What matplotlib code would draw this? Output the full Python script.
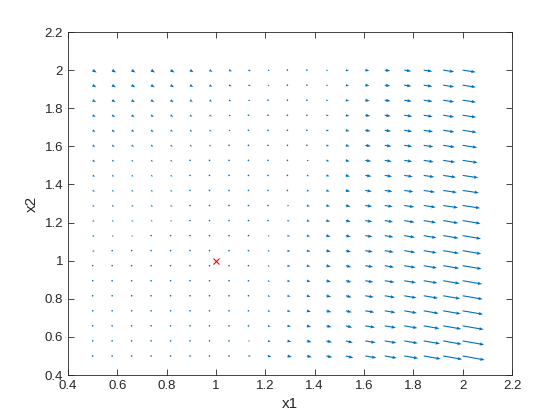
import numpy as np
import matplotlib
matplotlib.use('Agg')
import matplotlib.pyplot as plt

# grid of the vector field (same as MATLAB linspace(0.5,2,20))
x1 = np.linspace(0.5, 2.0, 20)
x2 = np.linspace(0.5, 2.0, 20)

# arrow components (screen pixels), rows from x2=2.0 down to x2=0.5
U = [
    [4, 4, 4, 4, 4, 3.5, 3, 3, 2.5, 2, 0.5, 0.5, 2, 3, 4, 5.5, 7, 8.5, 11, 13],
    [3.7, 3.7, 3.7, 3.6, 3.5, 3.2, 2.8, 2.7, 2.3, 1.7, 0.4, 0.5, 2, 3.2, 4.2, 5.6, 7.2, 8.7, 11, 13.2],
    [3.4, 3.4, 3.3, 3.2, 3.1, 2.8, 2.5, 2.4, 2, 1.3, 0.2, 0.5, 2.2, 3.3, 4.5, 5.8, 7.5, 8.8, 11, 13.3],
    [3, 3, 3, 2.8, 2.6, 2.4, 2.2, 2, 1.5, 1, 0, 0.5, 2.5, 3.5, 5, 6, 8, 9, 11, 13.5],
    [2.8, 2.8, 2.7, 2.6, 2.4, 2.2, 2, 1.7, 1.2, 0.8, 0.3, 1, 2.7, 3.7, 5.3, 6.3, 8, 9.3, 11.3, 14],
    [2.6, 2.5, 2.4, 2.3, 2.2, 2, 1.8, 1.3, 0.8, 0.6, 0.7, 1.5, 2.8, 3.8, 5.6, 6.7, 8, 9.7, 11.7, 14.5],
    [2.5, 2.2, 2, 2, 2, 1.5, 1.5, 1, 0.5, 0.4, 1, 2, 3, 4, 6, 7, 8, 10, 12, 15],
    [2.4, 2.1, 2, 2, 2, 1.4, 1.2, 0.8, 0.4, 0.6, 1.4, 2.3, 3.2, 4.2, 6.2, 7.3, 8.6, 10.6, 12.8, 15.6],
    [2.2, 2, 2, 2, 2, 1.2, 0.9, 0.6, 0.3, 0.8, 1.7, 2.6, 3.4, 4.4, 6.5, 7.6, 9.2, 11.2, 13.6, 16.3],
    [2, 2, 2, 2, 2, 1, 0.5, 0.5, 0.2, 1, 2, 3, 3.7, 4.7, 6.8, 8, 10, 12, 14.8, 17.5],
    [2, 1.8, 1.8, 1.7, 1.7, 0.8, 0.4, 0.4, 0.5, 1.3, 2.3, 3.1, 3.9, 4.9, 7, 8.3, 10.3, 12.3, 15.1, 17.9],
    [2, 1.7, 1.6, 1.4, 1.3, 0.7, 0.3, 0.3, 0.7, 1.7, 2.6, 3.3, 4.2, 5, 7.2, 8.7, 10.7, 12.7, 15.4, 18.3],
    [2, 1.5, 1.5, 1, 1, 0.5, 0.3, 0.3, 1, 2, 3, 3.5, 4.5, 5.2, 7.5, 9, 11, 13, 15.7, 18.6],
    [1.5, 1.5, 1.5, 1, 1, 0.5, 0.1, 0.5, 1, 2, 3, 3.5, 4.5, 5.5, 7.8, 9.3, 11.3, 13.3, 16, 19],
    [1.4, 1.4, 1.2, 1, 0.9, 0.5, 0.2, 0.5, 1.2, 2.2, 3, 3.7, 4.7, 5.7, 8, 9.7, 11.7, 13.7, 16.5, 19.5],
    [1.2, 1.2, 0.9, 1, 0.7, 0.5, 0.3, 0.5, 1.3, 2.3, 3, 3.8, 4.8, 5.8, 8.5, 10.2, 12.2, 14.3, 17, 20],
    [1, 1, 0.6, 1, 0.5, 0.4, 0.3, 0.5, 1.5, 2.5, 3.2, 4, 5, 6, 9, 10.7, 12.7, 15, 17.5, 20.5],
    [1, 1, 0.7, 0.7, 0.4, 0.3, 0.3, 0.7, 1.7, 2.7, 3.5, 4.3, 5.3, 6.5, 9.7, 11.2, 13.2, 15.7, 18, 21],
    [1, 1, 0.8, 0.5, 0.3, 0.2, 0.3, 0.8, 1.8, 2.8, 3.8, 4.7, 5.7, 7, 10.3, 11.6, 13.6, 16.3, 18.5, 21.5],
    [1, 1, 1, 0.5, 0.3, 0.2, 0.3, 1.5, 2.5, 3.5, 4.5, 5, 6, 7.5, 11, 12, 14, 17, 19, 22],
]
V = [
    [-2.4, -2.4, -2.4, -2.4, -2.4, -2.1, -1.8, -1.2, -1.0, -0.8, -1.0, -1.0, -0.5, -0.8, -0.6, -0.8, -1.1, -1.3, -1.7, -2.0],
    [-2.2, -2.2, -2.2, -2.2, -2.1, -1.9, -1.7, -1.1, -0.9, -0.7, -0.9, -0.9, -0.5, -0.8, -0.6, -0.8, -1.1, -1.3, -1.7, -2.0],
    [-2.0, -2.0, -2.0, -1.9, -1.9, -1.7, -1.5, -1.0, -0.8, -0.5, -0.7, -0.7, -0.6, -0.8, -0.7, -0.9, -1.1, -1.3, -1.7, -2.0],
    [-1.8, -1.8, -1.8, -1.7, -1.6, -1.4, -1.3, -0.8, -0.6, -0.4, -0.3, -0.4, -0.6, -0.9, -0.8, -0.9, -1.2, -1.4, -1.7, -2.0],
    [-1.7, -1.7, -1.6, -1.6, -1.4, -1.3, -1.2, -0.7, -0.5, -0.3, -0.2, -0.3, -0.7, -0.9, -0.8, -0.9, -1.2, -1.4, -1.7, -2.1],
    [-1.6, -1.5, -1.4, -1.4, -1.3, -1.2, -1.1, -0.5, -0.3, -0.2, -0.2, -0.4, -0.7, -1.0, -0.8, -1.0, -1.2, -1.5, -1.8, -2.2],
    [-1.5, -1.3, -1.2, -1.2, -1.2, -0.9, -0.9, -0.8, -0.4, -0.2, -0.3, -0.5, -0.8, -1.0, -0.9, -1.1, -1.2, -1.5, -1.8, -2.3],
    [-1.3, -1.2, -1.1, -1.1, -1.1, -0.8, -0.7, -0.7, -0.4, -0.2, -0.4, -0.6, -0.8, -1.1, -0.9, -1.1, -1.3, -1.6, -1.9, -2.3],
    [-1.2, -1.1, -1.1, -1.1, -1.1, -0.7, -0.6, -0.6, -0.3, -0.3, -0.4, -0.7, -0.9, -1.1, -1.0, -1.1, -1.4, -1.7, -2.0, -2.4],
    [-1.1, -1.1, -1.1, -1.1, -1.1, -0.9, -0.8, -0.5, -0.2, -0.4, -0.5, -0.8, -0.9, -1.2, -1.0, -1.2, -1.5, -1.8, -2.2, -2.6],
    [-1.1, -1.0, -1.0, -0.9, -0.9, -0.7, -0.6, -0.4, -0.2, -0.5, -0.6, -0.8, -1.0, -1.2, -1.2, -1.4, -1.8, -2.1, -2.6, -3.0],
    [-1.1, -0.9, -0.9, -0.8, -0.7, -0.5, -0.4, -0.3, -0.3, -0.7, -0.7, -0.8, -1.1, -1.3, -1.2, -1.5, -1.8, -2.2, -2.6, -3.1],
    [-1.1, -0.8, -0.8, -0.6, -0.5, -0.3, -0.1, -0.2, -0.4, -0.8, -0.8, -0.9, -1.1, -1.3, -1.3, -1.5, -1.9, -2.2, -2.7, -3.2],
    [-0.6, -0.6, -0.6, -0.4, -0.4, -0.2, 0.0, -0.2, -0.4, -0.8, -0.8, -0.9, -1.1, -1.4, -1.3, -1.6, -1.9, -2.3, -2.7, -3.2],
    [-0.6, -0.6, -0.5, -0.4, -0.3, -0.1, 0.2, -0.1, -0.5, -0.9, -0.8, -0.9, -1.2, -1.4, -1.4, -1.6, -2.0, -2.3, -2.8, -3.3],
    [-0.4, -0.4, -0.3, -0.3, -0.1, 0.3, 0.5, 0.2, -0.3, -0.8, -0.8, -1.0, -1.2, -1.5, -1.4, -1.7, -2.1, -2.4, -2.9, -3.4],
    [-0.2, -0.2, 0.0, -0.2, 0.2, 0.6, 0.9, 0.4, -0.3, -0.8, -0.8, -1.0, -1.3, -1.5, -1.5, -1.8, -2.2, -2.6, -3.0, -3.5],
    [0.0, 0.0, 0.2, 0.2, 0.4, 0.9, 1.2, 0.6, -0.3, -0.8, -0.9, -1.1, -1.3, -1.6, -1.6, -1.9, -2.2, -2.7, -3.1, -3.6],
    [0.4, 0.2, 0.3, 0.3, 0.5, 1.1, 1.4, 0.8, -0.2, -0.8, -1.0, -1.2, -1.4, -1.8, -1.8, -2.0, -2.3, -2.8, -3.3, -3.8],
    [1.0, 0.6, 0.5, 0.4, 0.6, 1.3, 1.6, 0.9, -0.2, -0.9, -1.1, -1.3, -1.5, -1.9, -1.9, -2.1, -2.4, -3.0, -3.4, -4.0],
]

eq_x1 = [1.0]
eq_x2 = [1.0]

plt.rcParams['font.family'] = ['Liberation Sans', 'DejaVu Sans']

fig = plt.figure(figsize=(5.6, 4.2), dpi=100)
ax = fig.add_axes([68/560, 45/420, 444/560, 343/420])

X, Y = np.meshgrid(x1, x2[::-1])
ax.quiver(X, Y, np.array(U), np.array(V), angles='uv', scale_units='dots', scale=1,
          color='#0072BD', width=0.0025, headwidth=3, headlength=4,
          headaxislength=3.6, minlength=1.6, minshaft=1, pivot='tail')
ax.plot(eq_x1, eq_x2, 'x', color='red', markersize=5, markeredgewidth=0.8)

ax.set_xlim(0.4, 2.2)
ax.set_ylim(0.4, 2.2)
ticks = [0.4, 0.6, 0.8, 1, 1.2, 1.4, 1.6, 1.8, 2, 2.2]
ax.set_xticks(ticks)
ax.set_yticks(ticks)
ax.set_xticklabels(['0.4', '0.6', '0.8', '1', '1.2', '1.4', '1.6', '1.8', '2', '2.2'])
ax.set_yticklabels(['0.4', '0.6', '0.8', '1', '1.2', '1.4', '1.6', '1.8', '2', '2.2'])
ax.tick_params(direction='in', length=4, width=0.6, colors='#262626', labelsize=9.5,
               top=True, right=True)
for s in ax.spines.values():
    s.set_linewidth(0.6)
    s.set_color('#262626')
ax.set_xlabel('x1', fontsize=11, color='#262626')
ax.set_ylabel('x2', fontsize=11, color='#262626')

fig.savefig('out.png', dpi=100)
